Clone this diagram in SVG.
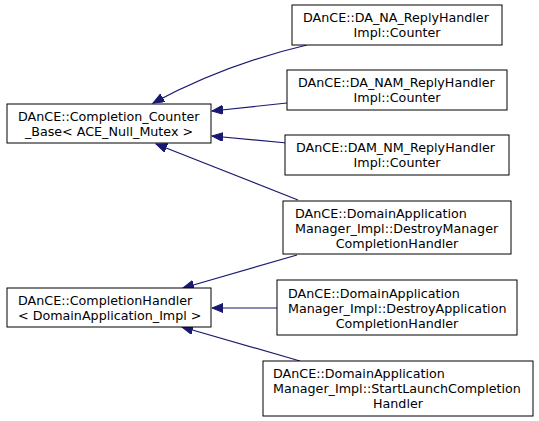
<svg xmlns="http://www.w3.org/2000/svg" width="539" height="421" viewBox="0 0 539 421">
<style>
.box{fill:#fff;stroke:#000;stroke-width:1}
text{font-family:"DejaVu Sans",sans-serif;font-size:12.7px;fill:#000}
.m{text-anchor:middle}
.e{fill:none;stroke:#191970;stroke-width:1.2;marker-end:url(#ah)}
</style>
<defs>
<marker id="ah" markerUnits="userSpaceOnUse" markerWidth="12" markerHeight="10" refX="11" refY="4.5" orient="auto">
<path d="M0,0 L11,4.5 L0,9 z" fill="#191970" stroke="#191970"/>
</marker>
</defs>
<rect width="539" height="421" fill="#fff"/>
<g id="connectors">
<path class="e" d="M307,45 C260,56 205,75 153,103"/>
<path class="e" d="M287,103 L212,111"/>
<path class="e" d="M287,143 L212,136"/>
<path class="e" d="M298,200 L156,144"/>
<path class="e" d="M297,255 L183,288"/>
<path class="e" d="M277,308 L212,308"/>
<path class="e" d="M300,361 L182,327"/>
</g>
<g id="node-counter-base">
<rect class="box" x="7" y="104" width="204" height="39"/>
<text x="18" y="121">DAnCE::Completion_Counter</text>
<text class="m" x="109" y="136">_Base&lt; ACE_Null_Mutex &gt;</text>
</g>
<g id="node-completion-handler">
<rect class="box" x="7" y="288" width="204" height="39"/>
<text x="18" y="305">DAnCE::CompletionHandler</text>
<text x="18" y="320">&lt; DomainApplication_Impl &gt;</text>
</g>
<g id="node-da-na">
<rect class="box" x="292" y="5" width="210" height="40"/>
<text x="303" y="22">DAnCE::DA_NA_ReplyHandler</text>
<text class="m" x="397" y="37">Impl::Counter</text>
</g>
<g id="node-da-nam">
<rect class="box" x="287" y="70" width="220" height="40"/>
<text x="298" y="87">DAnCE::DA_NAM_ReplyHandler</text>
<text class="m" x="397" y="102">Impl::Counter</text>
</g>
<g id="node-dam-nm">
<rect class="box" x="285" y="135" width="224" height="40"/>
<text x="296" y="152">DAnCE::DAM_NM_ReplyHandler</text>
<text class="m" x="397" y="167">Impl::Counter</text>
</g>
<g id="node-destroy-manager">
<rect class="box" x="283" y="201" width="228" height="53"/>
<text x="295" y="218">DAnCE::DomainApplication</text>
<text x="295" y="233">Manager_Impl::DestroyManager</text>
<text class="m" x="397" y="248">CompletionHandler</text>
</g>
<g id="node-destroy-application">
<rect class="box" x="277" y="280" width="240" height="55"/>
<text x="288" y="298">DAnCE::DomainApplication</text>
<text x="288" y="313">Manager_Impl::DestroyApplication</text>
<text class="m" x="397" y="328">CompletionHandler</text>
</g>
<g id="node-start-launch">
<rect class="box" x="263" y="361" width="270" height="55"/>
<text x="273" y="378">DAnCE::DomainApplication</text>
<text x="273" y="393">Manager_Impl::StartLaunchCompletion</text>
<text class="m" x="398" y="408">Handler</text>
</g>
</svg>
